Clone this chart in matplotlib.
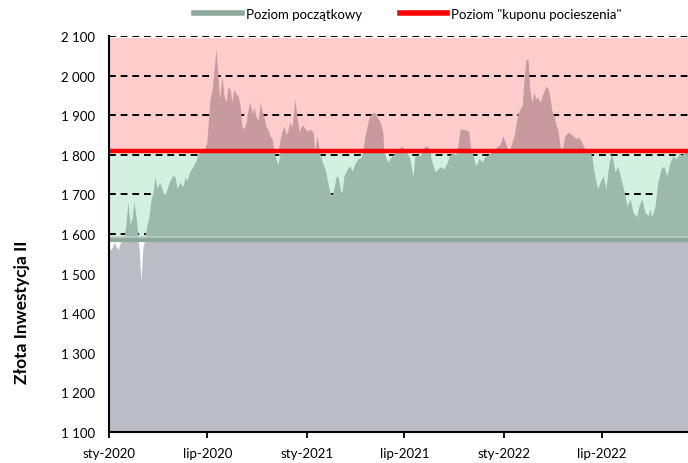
import numpy as np
import pandas as pd
import matplotlib
matplotlib.use("Agg")
import matplotlib.pyplot as plt
from matplotlib.lines import Line2D

plt.rcParams['font.family'] = ['Lato', 'DejaVu Sans']

# dni od 2020-01-01 i wartosci
days = [0, 4, 6, 9, 13, 17, 20, 24, 28, 31, 35, 39, 43, 46, 50, 54, 56, 59, 63, 67,
        70, 74, 78, 81, 85, 89, 94, 100, 104, 109, 113, 117, 122, 126, 131, 137, 141, 144, 150, 156,
        161, 165, 170, 176, 181, 187, 191, 194, 198, 202, 205, 209, 213, 217, 220, 224, 228, 231, 235, 239,
        243, 246, 250, 254, 257, 261, 265, 268, 272, 276, 280, 283, 287, 291, 294, 298, 302, 305, 309, 313,
        317, 320, 324, 328, 331, 335, 339, 344, 348, 352, 355, 359, 363, 368, 372, 378, 381, 385, 389, 392,
        394, 400, 405, 409, 413, 417, 420, 424, 428, 431, 435, 441, 446, 450, 455, 461, 467, 470, 474, 478,
        481, 485, 491, 496, 502, 507, 509, 513, 517, 520, 526, 531, 537, 542, 548, 554, 557, 563, 566, 572,
        576, 581, 585, 591, 594, 598, 604, 609, 615, 620, 626, 631, 637, 641, 646, 650, 655, 661, 666, 670,
        674, 679, 685, 691, 696, 702, 707, 713, 718, 724, 729, 733, 739, 742, 746, 750, 753, 757, 761, 765,
        768, 772, 776, 779, 783, 787, 790, 794, 798, 802, 805, 809, 813, 816, 820, 824, 828, 831, 835, 839,
        844, 850, 855, 861, 865, 868, 872, 876, 879, 883, 887, 890, 894, 898, 902, 905, 909, 915, 920, 926,
        931, 937, 942, 948, 954, 959, 965, 970, 977, 981, 987, 992, 998, 1002, 1005, 1011, 1016, 1022, 1027, 1033,
        1039, 1044, 1050, 1055, 1061, 1066, 1072]
price = [1565, 1560, 1567, 1578, 1570, 1560, 1575, 1585, 1595, 1620, 1680, 1625, 1640, 1683, 1645, 1590, 1560, 1480, 1570, 1600,
         1620, 1645, 1690, 1700, 1744, 1715, 1731, 1705, 1700, 1720, 1735, 1746, 1746, 1715, 1731, 1720, 1744, 1735, 1759, 1772,
         1785, 1802, 1808, 1812, 1830, 1941, 1966, 2009, 2067, 1991, 1941, 1999, 1949, 1933, 1971, 1966, 1933, 1966, 1954, 1949,
         1924, 1873, 1865, 1883, 1911, 1933, 1903, 1921, 1898, 1886, 1933, 1911, 1896, 1870, 1865, 1848, 1840, 1815, 1790, 1775,
         1840, 1857, 1873, 1850, 1860, 1883, 1870, 1941, 1898, 1857, 1870, 1875, 1865, 1860, 1865, 1857, 1810, 1848, 1815, 1797,
         1785, 1764, 1731, 1705, 1696, 1719, 1744, 1747, 1714, 1701, 1747, 1764, 1772, 1759, 1777, 1790, 1794, 1812, 1848, 1873,
         1891, 1903, 1908, 1896, 1883, 1857, 1810, 1790, 1782, 1790, 1800, 1805, 1815, 1822, 1812, 1800, 1790, 1744, 1795, 1800,
         1797, 1812, 1822, 1820, 1805, 1782, 1757, 1765, 1770, 1764, 1780, 1800, 1805, 1800, 1822, 1865, 1865, 1862, 1860, 1812,
         1800, 1772, 1790, 1782, 1795, 1800, 1805, 1815, 1820, 1826, 1848, 1835, 1810, 1812, 1832, 1848, 1873, 1903, 1916, 1924,
         1984, 2042, 2040, 1966, 1933, 1959, 1941, 1946, 1933, 1949, 1959, 1974, 1966, 1949, 1911, 1898, 1873, 1865, 1822, 1812,
         1848, 1857, 1853, 1845, 1840, 1845, 1840, 1830, 1820, 1812, 1812, 1808, 1797, 1757, 1731, 1714, 1731, 1747, 1714, 1782,
         1802, 1757, 1772, 1739, 1706, 1671, 1688, 1655, 1643, 1671, 1688, 1655, 1646, 1663, 1643, 1671, 1731, 1764, 1772, 1747,
         1782, 1797, 1790, 1802, 1800, 1808, 1812]

poziom_poczatkowy = 1585
poziom_kuponu = 1810
y_ticks = [1100, 1200, 1300, 1400, 1500, 1600, 1700, 1800, 1900, 2000, 2100]
x_tick_dates = ['2020-01-01', '2020-07-01', '2021-01-01', '2021-07-01', '2022-01-01', '2022-07-01']
x_tick_labels = ['sty-2020', 'lip-2020', 'sty-2021', 'lip-2021', 'sty-2022', 'lip-2022']

dates = pd.Timestamp('2020-01-01') + pd.to_timedelta(days, unit='D')
p = np.array(price, dtype=float)

fig = plt.figure(figsize=(6.88, 4.64), dpi=100)
ax = fig.add_axes([109 / 688, 1 - 433 / 464, 1 - 109 / 688, (433 - 37) / 464])

# strefy w tle
ax.axhspan(poziom_poczatkowy, poziom_kuponu, color='#D3F0E1', lw=0, zorder=0)
ax.axhspan(poziom_kuponu, 2095, color='#FFCCCC', lw=0, zorder=0)

for v in y_ticks[1:]:
    ax.axhline(v, color='black', lw=1.4, ls=(0, (3.5, 2.5)), zorder=1)

ax.fill_between(dates, 1100, np.minimum(p, poziom_poczatkowy), color='#BCBCC6', lw=0, zorder=2)
ax.fill_between(dates, poziom_poczatkowy, np.clip(p, poziom_poczatkowy, poziom_kuponu),
                color='#9BB9AD', lw=0, zorder=2)
ax.fill_between(dates, poziom_kuponu, np.maximum(p, poziom_kuponu), color='#C79AA0', lw=0, zorder=2)

ax.axhline(poziom_poczatkowy + 8, color='#C3C8C6', lw=1.2, zorder=3)
ax.axhline(poziom_poczatkowy, color='#8CA99C', lw=3, zorder=3)
ax.axhline(poziom_kuponu, color='#FF0000', lw=3.2, zorder=4)

ax.set_xlim(dates[0], dates[-1])
ax.set_ylim(1100, 2100)
ax.set_yticks(y_ticks)
ax.set_yticklabels([f"{v:,}".replace(",", " ") for v in y_ticks], fontsize=9.5)
ax.set_xticks(pd.to_datetime(x_tick_dates))
ax.set_xticklabels(x_tick_labels, fontsize=9.5)
ax.tick_params(axis='y', length=0, pad=10)
ax.tick_params(axis='x', length=4, width=1.3, color='black', pad=7, direction='out')

for s in ['top', 'right']:
    ax.spines[s].set_visible(False)
for s in ['left', 'bottom']:
    ax.spines[s].set_color('black')
    ax.spines[s].set_linewidth(1.5)
    ax.spines[s].set_zorder(5)

fig.text(22 / 688, 1 - 312 / 464, 'Złota Inwestycja II', rotation=90, fontsize=12.5,
         fontweight='bold', ha='center', va='center')

handles = [Line2D([], [], color='#8CA99C', lw=4), Line2D([], [], color='#FF0000', lw=4)]
fig.legend(handles, ['Poziom początkowy', 'Poziom "kuponu pocieszenia"'],
           loc='center', bbox_to_anchor=(408 / 688, 1 - 15 / 464), ncol=2, frameon=False,
           fontsize=9.5, handlelength=3.6, handletextpad=0.3, columnspacing=2.9)

fig.savefig('out.png', dpi=100)
